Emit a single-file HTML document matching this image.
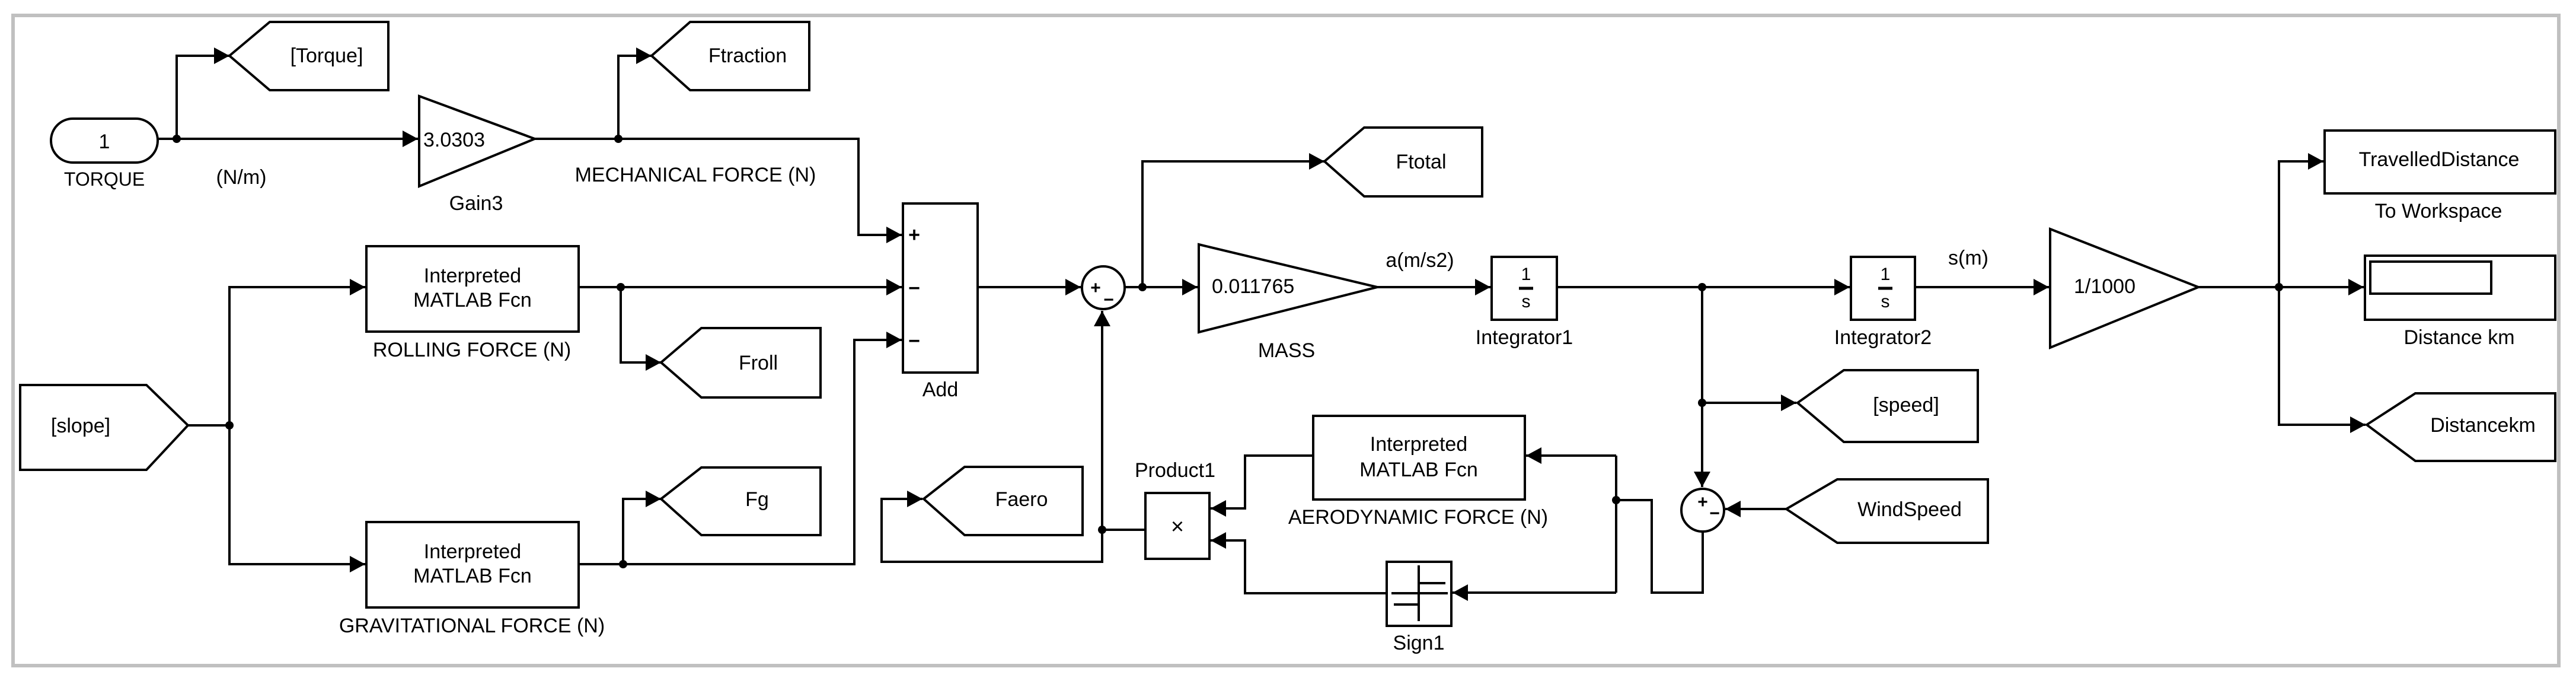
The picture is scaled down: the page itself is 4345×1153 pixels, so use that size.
<!DOCTYPE html>
<html><head><meta charset="utf-8"><style>
html,body{margin:0;padding:0;background:#fff;}
svg{display:block;}
text{font-family:"Liberation Sans",Arial,sans-serif;font-size:34px;fill:#000;}
</style></head><body>
<svg width="4345" height="1153" viewBox="0 0 4345 1153" xmlns="http://www.w3.org/2000/svg">
<defs>
<marker id="a" markerUnits="userSpaceOnUse" markerWidth="30" markerHeight="30" refX="26" refY="14" orient="auto">
<path d="M0,0 L26,14 L0,28 z" fill="#000"/>
</marker>
</defs>
<rect x="22" y="26" width="4294" height="1096" fill="none" stroke="#c0c0c0" stroke-width="6"/>
<g fill="none" stroke="#000" stroke-width="4">
<rect x="86" y="200" width="180" height="74" rx="37"/>
<path d="M266,234 H705" marker-end="url(#a)"/>
<path d="M298,234 V94 H387" marker-end="url(#a)"/>
<polygon points="387,94 455,37 655,37 655,152 455,152"/>
<polygon points="707,162 902,234 707,314"/>
<path d="M902,234 H1448 V396 H1521" marker-end="url(#a)"/>
<path d="M1043,234 V94 H1099" marker-end="url(#a)"/>
<polygon points="1099,94 1164,37 1365,37 1365,152 1164,152"/>
<polygon points="34,649 247,649 317,717 247,792 34,792"/>
<path d="M317,717 H387"/>
<path d="M387,717 V484 H616" marker-end="url(#a)"/>
<path d="M387,717 V951 H616" marker-end="url(#a)"/>
<rect x="618" y="415" width="358" height="144"/>
<rect x="618" y="880" width="358" height="144"/>
<path d="M976,484 H1521" marker-end="url(#a)"/>
<path d="M1047,484 V611 H1115" marker-end="url(#a)"/>
<polygon points="1115,611 1183,553 1384,553 1384,670 1183,670"/>
<path d="M976,951 H1441 V573 H1521" marker-end="url(#a)"/>
<path d="M1051,951 V841 H1115" marker-end="url(#a)"/>
<polygon points="1115,841 1183,788 1384,788 1384,902 1183,902"/>
<rect x="1523" y="343" width="126" height="285"/>
<path d="M1649,484 H1823" marker-end="url(#a)"/>
<circle cx="1861" cy="485" r="36"/>
<path d="M1897,484 H2020" marker-end="url(#a)"/>
<path d="M1927,484 V272 H2234" marker-end="url(#a)"/>
<polygon points="2234,272 2301,215 2500,215 2500,331 2301,331"/>
<polygon points="2022,412 2323,484 2022,560"/>
<path d="M2323,484 H2514" marker-end="url(#a)"/>
<rect x="2516" y="433" width="110" height="106"/>
<path d="M2626,484 H3120" marker-end="url(#a)"/>
<rect x="3122" y="433" width="108" height="106"/>
<path d="M3230,484 H3456" marker-end="url(#a)"/>
<polygon points="3458,386 3708,484 3458,586"/>
<path d="M3708,484 H3987" marker-end="url(#a)"/>
<path d="M3844,484 V272 H3919" marker-end="url(#a)"/>
<path d="M3844,484 V716 H3990" marker-end="url(#a)"/>
<rect x="3921" y="220" width="389" height="106"/>
<rect x="3989" y="431" width="321" height="108"/>
<rect x="3998" y="441" width="204" height="54"/>
<polygon points="3992,716 4074,663 4310,663 4310,777 4074,777"/>
<path d="M2871,484 V821" marker-end="url(#a)"/>
<path d="M2871,679 H3030" marker-end="url(#a)"/>
<polygon points="3032,679 3110,624 3336,624 3336,745 3110,745"/>
<circle cx="2872" cy="860" r="36"/>
<polygon points="3013,858 3099,808 3353,808 3353,915 3099,915"/>
<path d="M3013,858 H2910" marker-end="url(#a)"/>
<path d="M2872,896 V999 H2786 V843 H2726"/>
<path d="M2726,768 V999"/>
<path d="M2726,768 H2574" marker-end="url(#a)"/>
<path d="M2726,999 H2450" marker-end="url(#a)"/>
<rect x="2215" y="701" width="357" height="141"/>
<rect x="2339" y="947" width="109" height="108"/>
<path d="M2393,953 V1047 M2347,1000 H2442 M2393,983 H2438 M2351,1019 H2393"/>
<path d="M2215,768 H2100 V857 H2042" marker-end="url(#a)"/>
<path d="M2339,1000 H2100 V911 H2042" marker-end="url(#a)"/>
<rect x="1932" y="831" width="108" height="111"/>
<path d="M1932,893 H1859"/>
<path d="M1859,947 V524" marker-end="url(#a)"/>
<path d="M1859,893 V947 H1487 V841 H1556" marker-end="url(#a)"/>
<polygon points="1558,841 1627,787 1826,787 1826,902 1627,902"/>
<path d="M2562,486 H2586 M3168,486 H3192" stroke-width="5"/>
</g>
<g fill="#000">
<circle cx="298" cy="234" r="7"/><circle cx="1043" cy="234" r="7"/>
<circle cx="387" cy="717" r="7"/><circle cx="1047" cy="484" r="7"/>
<circle cx="1051" cy="951" r="7"/><circle cx="1927" cy="484" r="7"/>
<circle cx="2871" cy="484" r="7"/><circle cx="2871" cy="679" r="7"/>
<circle cx="2726" cy="843" r="7"/><circle cx="1859" cy="893" r="7"/>
<circle cx="3844" cy="484" r="7"/>
</g>
<g text-anchor="middle">
<text x="176" y="250">1</text>
<text x="176" y="313" style="font-size:32px">TORQUE</text>
<text x="407" y="310">(N/m)</text>
<text x="551" y="105">[Torque]</text>
<text x="1261" y="105">Ftraction</text>
<text x="803" y="354">Gain3</text>
<text x="1173" y="306">MECHANICAL FORCE (N)</text>
<text x="797" y="476">Interpreted</text>
<text x="797" y="517">MATLAB Fcn</text>
<text x="796" y="601">ROLLING FORCE (N)</text>
<text x="797" y="941">Interpreted</text>
<text x="797" y="982">MATLAB Fcn</text>
<text x="796" y="1066">GRAVITATIONAL FORCE (N)</text>
<text x="136" y="729">[slope]</text>
<text x="1279" y="623">Froll</text>
<text x="1277" y="853">Fg</text>
<text x="1586" y="668">Add</text>
<text x="1723" y="853">Faero</text>
<text x="2397" y="284">Ftotal</text>
<text x="2170" y="602">MASS</text>
<text x="2395" y="450">a(m/s2)</text>
<text x="2574" y="472" style="font-size:30px">1</text>
<text x="2574" y="518" style="font-size:30px">s</text>
<text x="2571" y="580">Integrator1</text>
<text x="3180" y="472" style="font-size:30px">1</text>
<text x="3180" y="518" style="font-size:30px">s</text>
<text x="3176" y="580">Integrator2</text>
<text x="3320" y="446">s(m)</text>
<text x="3550" y="494">1/1000</text>
<text x="4114" y="280">TravelledDistance</text>
<text x="4113" y="367">To Workspace</text>
<text x="4148" y="580">Distance km</text>
<text x="4188" y="728">Distancekm</text>
<text x="3215" y="694">[speed]</text>
<text x="3221" y="870">WindSpeed</text>
<text x="2393" y="760">Interpreted</text>
<text x="2393" y="803">MATLAB Fcn</text>
<text x="2392" y="883">AERODYNAMIC FORCE (N)</text>
<text x="2393" y="1095">Sign1</text>
<text x="1982" y="804">Product1</text>
<text x="1986" y="900" style="font-size:38px">×</text>
<text x="1542" y="407" style="font-size:34px;font-weight:bold">+</text>
<text x="1542" y="497" style="font-size:34px;font-weight:bold">−</text>
<text x="1542" y="586" style="font-size:34px;font-weight:bold">−</text>
<text x="1848" y="495" style="font-size:30px;font-weight:bold">+</text>
<text x="1870" y="515" style="font-size:30px;font-weight:bold">−</text>
<text x="2872" y="856" style="font-size:30px;font-weight:bold">+</text>
<text x="2892" y="875" style="font-size:30px;font-weight:bold">−</text>
</g>
<text x="714" y="247">3.0303</text>
<text x="2044" y="494">0.011765</text>
</svg>
</body></html>
